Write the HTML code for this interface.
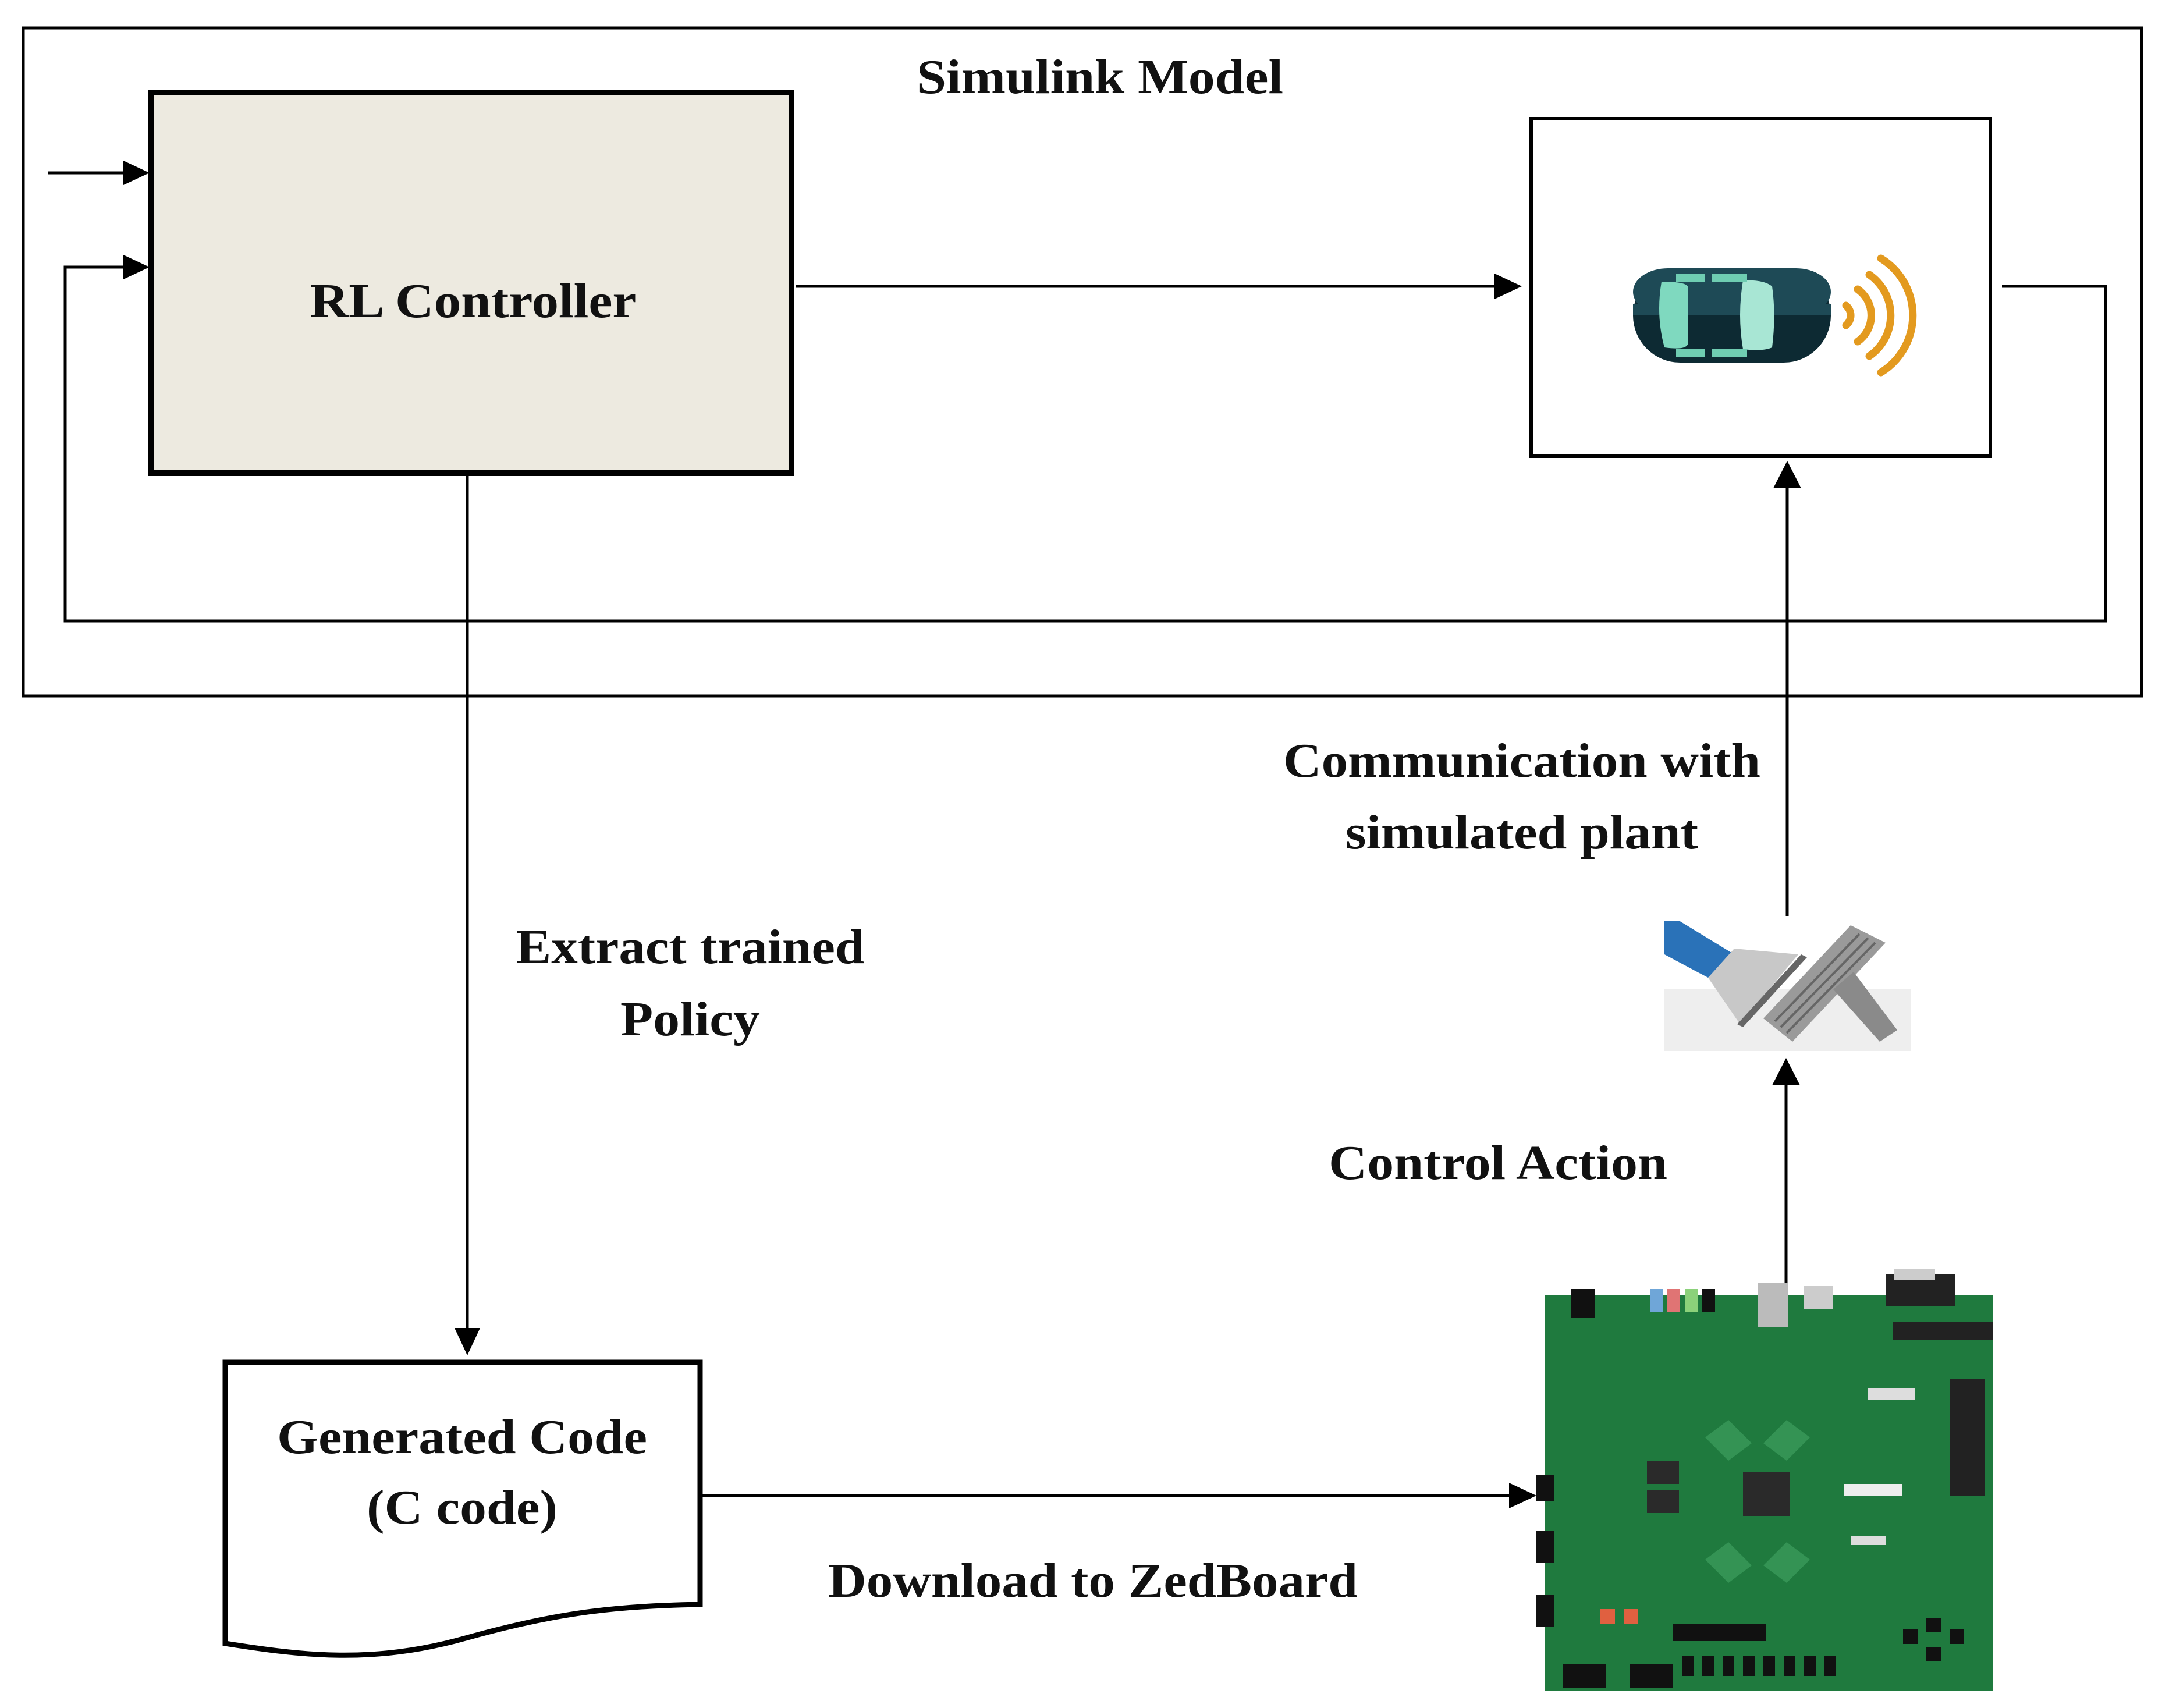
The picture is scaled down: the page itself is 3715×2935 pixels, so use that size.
<!DOCTYPE html>
<html><head><meta charset="utf-8"><style>html,body{margin:0;padding:0;background:#fff}svg{display:block}</style></head>
<body>
<svg width="3715" height="2935" viewBox="0 0 3715 2935" xmlns="http://www.w3.org/2000/svg">
<rect width="3715" height="2935" fill="#fff"/>
<rect x="40" y="48" width="3640" height="1148" fill="none" stroke="#000" stroke-width="5"/>
<rect x="259" y="159" width="1101" height="654" fill="#edeae0" stroke="#000" stroke-width="10"/>
<rect x="2631" y="204" width="789" height="580" fill="none" stroke="#000" stroke-width="6"/>

<g stroke="#000" stroke-width="5" fill="none">
<line x1="83" y1="297" x2="222" y2="297"/>
<polyline points="3440,492 3618,492 3618,1067 112,1067 112,459 222,459"/>
<line x1="1367" y1="492" x2="2580" y2="492"/>
<line x1="803" y1="818" x2="803" y2="2292"/>
<line x1="1205" y1="2570" x2="2600" y2="2570"/>
<line x1="3069" y1="2211" x2="3069" y2="1855"/>
<line x1="3071" y1="1574" x2="3071" y2="830"/>
</g>
<g fill="#000">
<polygon points="257,297 212,276 212,318"/>
<polygon points="257,459 212,438 212,480"/>
<polygon points="2615,492 2568,470 2568,514"/>
<polygon points="803,2329 781,2282 825,2282"/>
<polygon points="2640,2570 2593,2548 2593,2592"/>
<polygon points="3069,1818 3045,1865 3093,1865"/>
<polygon points="3071,792 3047,839 3095,839"/>
</g>

<path d="M387,2341 L1203,2341 L1203,2757 C1060,2760 960,2770 800,2815 C640,2860 520,2845 387,2824 Z" fill="#fff" stroke="#000" stroke-width="9"/>

<g transform="translate(0,-8)">
<rect x="2806" y="469" width="340" height="162" rx="81" fill="#0d2a33"/>
<rect x="2806" y="469" width="340" height="81" rx="60" fill="#1e4a56"/>
<rect x="2806" y="530" width="340" height="20" fill="#1e4a56"/>
<path d="M2855,492 Q2895,492 2900,500 L2900,600 Q2895,610 2860,605 Q2845,550 2855,492Z" fill="#7fd9bf"/>
<path d="M2995,490 Q3030,488 3045,500 Q3052,550 3045,605 Q3030,612 2995,608 Q2985,550 2995,490Z" fill="#a8e6d4"/>
<rect x="2880" y="479" width="50" height="14" fill="#6fcdb2"/>
<rect x="2942" y="479" width="60" height="14" fill="#6fcdb2"/>
<rect x="2880" y="607" width="50" height="14" fill="#6fcdb2"/>
<rect x="2942" y="607" width="60" height="14" fill="#6fcdb2"/>
<g fill="none" stroke="#e39a1f" stroke-width="13" stroke-linecap="round">
<path d="M3172,533 A22,22 0 0 1 3172,567"/>
<path d="M3192,505 A55,55 0 0 1 3192,595"/>
<path d="M3212,480 A85,85 0 0 1 3212,620"/>
<path d="M3232,452 A115,115 0 0 1 3232,648"/>
</g>
</g>

<g>
<rect x="2860" y="1700" width="423" height="106" fill="#eeeeee"/>
<polygon points="2860,1582 2885,1582 2980,1640 2935,1680 2860,1640" fill="#2a72b8"/>
<polygon points="2935,1680 2980,1630 3090,1640 2990,1760" fill="#c8c8c8"/>
<polygon points="2985,1760 3095,1640 3105,1645 2995,1765" fill="#666"/>
<polygon points="3030,1750 3180,1590 3240,1620 3080,1790" fill="#9a9a9a"/>
<polygon points="3150,1700 3185,1670 3260,1770 3230,1790" fill="#8a8a8a"/>
<g stroke="#666" stroke-width="4"><line x1="3050" y1="1755" x2="3195" y2="1605"/><line x1="3060" y1="1765" x2="3210" y2="1612"/><line x1="3070" y1="1775" x2="3222" y2="1620"/></g>
</g>

<g>
<rect x="2655" y="2225" width="770" height="680" fill="#1f7a3e"/>
<g fill="#3a9a5a" opacity="0.8">
<polygon points="2930,2470 2970,2440 3010,2480 2970,2510"/>
<polygon points="3070,2440 3110,2470 3070,2510 3030,2480"/>
<polygon points="2930,2680 2970,2650 3010,2690 2970,2720"/>
<polygon points="3070,2650 3110,2680 3070,2720 3030,2690"/>
</g>
<rect x="2700" y="2215" width="40" height="50" fill="#111"/>
<rect x="2835" y="2215" width="22" height="40" fill="#6fa6d8"/>
<rect x="2865" y="2215" width="22" height="40" fill="#e07474"/>
<rect x="2895" y="2215" width="22" height="40" fill="#8bd17a"/>
<rect x="2925" y="2215" width="22" height="40" fill="#111"/>
<rect x="3020" y="2205" width="52" height="75" fill="#bbb"/>
<rect x="3100" y="2210" width="50" height="40" fill="#ccc"/>
<rect x="3240" y="2190" width="120" height="55" fill="#222"/>
<rect x="3255" y="2180" width="70" height="20" fill="#ccc"/>
<rect x="3252" y="2272" width="172" height="30" fill="#222"/>
<rect x="3350" y="2370" width="60" height="200" fill="#222"/>
<rect x="3210" y="2385" width="80" height="20" fill="#ddd"/>
<rect x="2995" y="2530" width="80" height="75" fill="#2a2a2a"/>
<rect x="2830" y="2510" width="55" height="40" fill="#2a2a2a"/>
<rect x="2830" y="2560" width="55" height="40" fill="#2a2a2a"/>
<rect x="3168" y="2550" width="100" height="20" fill="#eee"/>
<rect x="3180" y="2640" width="60" height="15" fill="#ddd"/>
<rect x="2640" y="2535" width="30" height="45" fill="#111"/>
<rect x="2640" y="2630" width="30" height="55" fill="#111"/>
<rect x="2640" y="2740" width="30" height="55" fill="#111"/>
<rect x="2875" y="2790" width="160" height="30" fill="#111"/>
<rect x="2750" y="2765" width="25" height="25" fill="#e06040"/>
<rect x="2790" y="2765" width="25" height="25" fill="#e06040"/>
<rect x="2685" y="2860" width="75" height="40" fill="#111"/>
<rect x="2800" y="2860" width="75" height="40" fill="#111"/>
<g fill="#111"><rect x="2890" y="2845" width="20" height="35"/><rect x="2925" y="2845" width="20" height="35"/><rect x="2960" y="2845" width="20" height="35"/><rect x="2995" y="2845" width="20" height="35"/><rect x="3030" y="2845" width="20" height="35"/><rect x="3065" y="2845" width="20" height="35"/><rect x="3100" y="2845" width="20" height="35"/><rect x="3135" y="2845" width="20" height="35"/>
<rect x="3270" y="2800" width="25" height="25"/><rect x="3310" y="2780" width="25" height="25"/><rect x="3310" y="2830" width="25" height="25"/><rect x="3350" y="2800" width="25" height="25"/></g>
</g>

<g font-family="'Liberation Serif', serif" font-weight="bold" font-size="84" fill="#111" text-anchor="middle">
<text x="1890" y="160" textLength="630" lengthAdjust="spacingAndGlyphs">Simulink Model</text>
<text x="813" y="545" textLength="561" lengthAdjust="spacingAndGlyphs">RL Controller</text>
<text x="2615" y="1335" textLength="820" lengthAdjust="spacingAndGlyphs">Communication with</text>
<text x="2615" y="1458" textLength="606" lengthAdjust="spacingAndGlyphs">simulated plant</text>
<text x="1186" y="1655" textLength="599" lengthAdjust="spacingAndGlyphs">Extract trained</text>
<text x="1186" y="1779" textLength="240" lengthAdjust="spacingAndGlyphs">Policy</text>
<text x="2574" y="2026" textLength="582" lengthAdjust="spacingAndGlyphs">Control Action</text>
<text x="794" y="2497" textLength="636" lengthAdjust="spacingAndGlyphs">Generated Code</text>
<text x="794" y="2618" textLength="328" lengthAdjust="spacingAndGlyphs">(C code)</text>
<text x="1878" y="2744" textLength="910" lengthAdjust="spacingAndGlyphs">Download to ZedBoard</text>
</g>
</svg>
</body></html>
